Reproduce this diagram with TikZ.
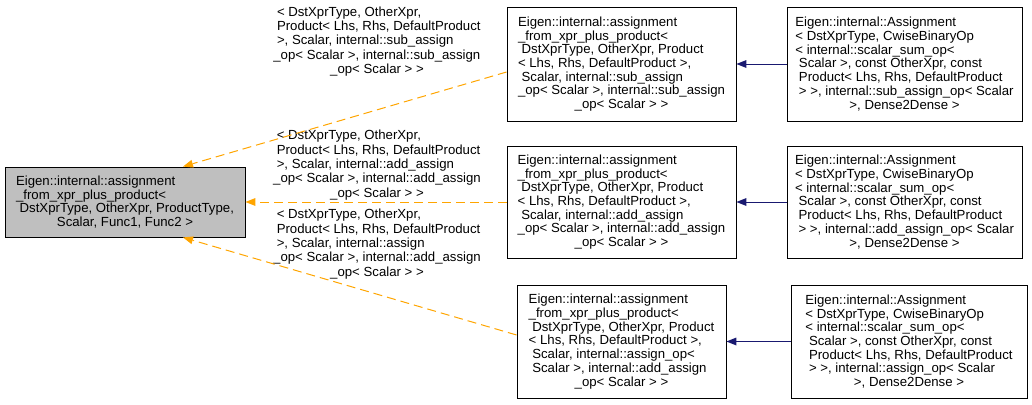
\documentclass[tikz,border=0pt]{standalone}
\usepackage{fontspec}
\setmainfont{Liberation Sans}
\usetikzlibrary{arrows.meta}
\definecolor{dxorange}{HTML}{FFA500}
\definecolor{dxnavy}{HTML}{191970}
\definecolor{dxgray}{HTML}{BFBFBF}
\newcommand\ctrline[1]{\hskip 0pt plus 1fill\relax #1\hskip 0pt plus 1fill\relax\null}
\newcommand\lsp{\hspace*{3.6pt}}
\newcommand\boxfont{\fontsize{13.2}{13.7}\selectfont}
\newcommand\labfont{\fontsize{13.2}{14.3}\selectfont}
\begin{document}
\begin{tikzpicture}[x=1pt,y=-1pt,
  cls/.style={draw=black, line width=0.9pt, align=left, inner sep=0pt, font=\boxfont, fill=white},
  midbox/.style={cls, minimum height=113pt},
  lab/.style={align=left, inner sep=0pt, font=\labfont},
  inh/.style={draw=dxorange, line width=1pt, dash pattern=on 9pt off 5pt, -{Triangle[length=10pt,width=8pt,fill=dxorange,line width=0pt]}},
  use/.style={draw=dxnavy, line width=1pt, -{Triangle[length=10pt,width=8pt,fill=dxnavy,line width=0pt]}}
]
\useasboundingbox (0,0) rectangle (1032,404);

\node[cls, fill=dxgray, minimum width=240pt, minimum height=70pt] (L) at (125,202)
 {Eigen::internal::assignment\\
  \_from\_xpr\_plus\_product<\\
  \lsp DstXprType, OtherXpr, ProductType,\\
  \ctrline{Scalar, Func1, Func2 >}};

\node[midbox, minimum width=229pt, minimum height=114pt] (M1) at (621.5,64)
 {Eigen::internal::assignment\\
  \_from\_xpr\_plus\_product<\\
  \lsp DstXprType, OtherXpr, Product\\
  < Lhs, Rhs, DefaultProduct >,\\
  \lsp Scalar, internal::sub\_assign\\
  \_op< Scalar >, internal::sub\_assign\\
  \ctrline{\_op< Scalar > >}};

\node[midbox, minimum width=229pt, minimum height=112pt] (M2) at (621.5,202)
 {Eigen::internal::assignment\\
  \_from\_xpr\_plus\_product<\\
  \lsp DstXprType, OtherXpr, Product\\
  < Lhs, Rhs, DefaultProduct >,\\
  \lsp Scalar, internal::add\_assign\\
  \_op< Scalar >, internal::add\_assign\\
  \ctrline{\_op< Scalar > >}};

\node[midbox, minimum width=209pt, minimum height=113pt] (M3) at (621.5,341.5)
 {Eigen::internal::assignment\\
  \_from\_xpr\_plus\_product<\\
  \lsp DstXprType, OtherXpr, Product\\
  < Lhs, Rhs, DefaultProduct >,\\
  \lsp Scalar, internal::assign\_op<\\
  \lsp Scalar >, internal::add\_assign\\
  \ctrline{\_op< Scalar > >}};

\node[midbox, minimum width=235pt, minimum height=114pt] (R1) at (904.5,64)
 {Eigen::internal::Assignment\\
  < DstXprType, CwiseBinaryOp\\
  < internal::scalar\_sum\_op<\\
  \lsp Scalar >, const OtherXpr, const\\
  \lsp Product< Lhs, Rhs, DefaultProduct\\
  \lsp > >, internal::sub\_assign\_op< Scalar\\
  \ctrline{>, Dense2Dense >}};

\node[midbox, minimum width=235pt, minimum height=112pt] (R2) at (904.5,202)
 {Eigen::internal::Assignment\\
  < DstXprType, CwiseBinaryOp\\
  < internal::scalar\_sum\_op<\\
  \lsp Scalar >, const OtherXpr, const\\
  \lsp Product< Lhs, Rhs, DefaultProduct\\
  \lsp > >, internal::add\_assign\_op< Scalar\\
  \ctrline{>, Dense2Dense >}};

\node[midbox, minimum width=236pt, minimum height=113pt] (R3) at (909,341.5)
 {Eigen::internal::Assignment\\
  < DstXprType, CwiseBinaryOp\\
  < internal::scalar\_sum\_op<\\
  \lsp Scalar >, const OtherXpr, const\\
  \lsp Product< Lhs, Rhs, DefaultProduct\\
  \lsp > >, internal::assign\_op< Scalar\\
  \ctrline{>, Dense2Dense >}};

\node[lab] (lab1) at (377,41.5)
 {\lsp < DstXprType, OtherXpr,\\
  \lsp Product< Lhs, Rhs, DefaultProduct\\
  \lsp >, Scalar, internal::sub\_assign\\
  \_op< Scalar >, internal::sub\_assign\\
  \ctrline{\_op< Scalar > >}};

\node[lab] (lab2) at (377,165)
 {\lsp < DstXprType, OtherXpr,\\
  \lsp Product< Lhs, Rhs, DefaultProduct\\
  \lsp >, Scalar, internal::add\_assign\\
  \_op< Scalar >, internal::add\_assign\\
  \ctrline{\_op< Scalar > >}};

\node[lab] (lab3) at (377,244)
 {\lsp < DstXprType, OtherXpr,\\
  \lsp Product< Lhs, Rhs, DefaultProduct\\
  \lsp >, Scalar, internal::assign\\
  \_op< Scalar >, internal::add\_assign\\
  \ctrline{\_op< Scalar > >}};

\draw[inh] ([yshift=-8pt]M1.west) -- ([xshift=58pt]L.north);
\draw[inh] (M2.west) -- (L.east);
\draw[inh] ([yshift=6.5pt]M3.west) -- ([xshift=58pt]L.south);

\draw[use] (R1.west) -- (M1.east);
\draw[use] (R2.west) -- (M2.east);
\draw[use] (R3.west) -- (M3.east);
\end{tikzpicture}
\end{document}
